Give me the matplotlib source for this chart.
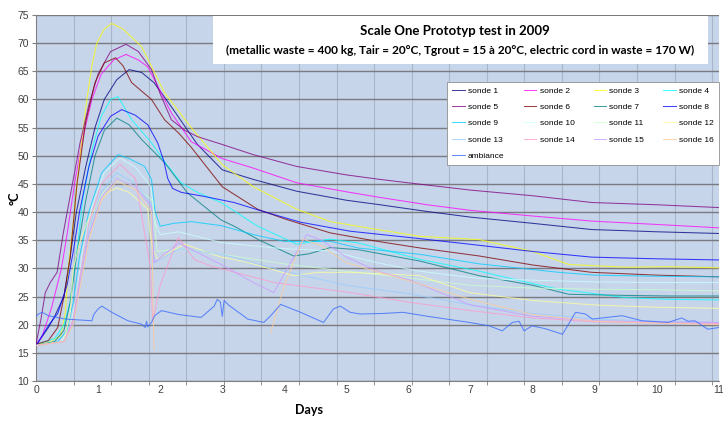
import numpy as np
import matplotlib
matplotlib.use("Agg")
import matplotlib.pyplot as plt
from matplotlib.patches import Rectangle

nan = np.nan

# ---- data (days, degC) ----
d_s1 = [0, 0.2, 0.3, 0.45, 0.55, 0.65, 0.8, 0.95, 1.1, 1.3, 1.5, 1.7, 1.9, 2.18, 2.6, 3.0, 3.5, 4.2, 5.0, 5.54, 6.3, 7.0, 8.0, 8.95, 10, 11]
t_s1 = [16.3, 19.5, 21.5, 25, 32, 40, 48, 55, 60, 63.5, 65.3, 64.8, 63, 58.7, 52, 47.5, 45.8, 43.7, 42.1, 41.3, 40.1, 39.1, 38, 36.9, 36.5, 36.2]

d_s2 = [0, 0.1, 0.16, 0.25, 0.41, 0.5, 0.62, 0.75, 0.9, 1.05, 1.25, 1.45, 1.65, 1.8, 2.0, 2.18, 2.5, 3.0, 3.5, 4.2, 5.0, 5.54, 6.3, 7.0, 8.0, 8.95, 10, 11]
t_s2 = [16.3, 18, 20, 23, 30, 36, 45, 53, 60, 64.5, 67, 68, 67, 65.8, 61.5, 57.6, 52.5, 49.5, 47.8, 45.2, 43.6, 42.6, 41.3, 40.3, 39.3, 38.4, 37.8, 37.2]

d_s3 = [0, 0.2, 0.4, 0.47, 0.52, 0.6, 0.66, 0.75, 0.82, 0.9, 0.98, 1.1, 1.22, 1.4, 1.7, 2.07, 2.5, 3.0, 3.5, 4.2, 4.74, 5.5, 6.18, 7.14, 8.0, 8.58, 9.5, 10.2, 11]
t_s3 = [16.5, 16.8, 18, 22, 30, 38, 45, 54, 60, 66, 70, 72.5, 73.5, 72.5, 69.4, 61.2, 55, 48.4, 44.5, 40.5, 38.3, 36.9, 35.7, 35.1, 33, 30.7, 30.2, 30.3, 30.1]

d_s4 = [0, 0.3, 0.45, 0.55, 0.65, 0.75, 0.9, 1.05, 1.2, 1.32, 1.54, 1.86, 2.1, 2.34, 2.6, 2.98, 3.57, 4.2, 4.74, 5.2, 6.18, 7.14, 8.0, 8.42, 9.5, 10.2, 11]
t_s4 = [16.5, 17.5, 20, 24, 32, 42, 51, 57, 60, 60.5, 56.4, 52.3, 48.5, 45.2, 43.5, 41.7, 37.5, 34.3, 35.2, 34.5, 31.6, 29.5, 27.3, 26.3, 24.8, 24.5, 24.4]

d_s5 = [0, 0.08, 0.15, 0.23, 0.34, 0.44, 0.58, 0.71, 0.85, 1.0, 1.2, 1.45, 1.65, 1.86, 2.0, 2.18, 2.4, 2.6, 3.0, 3.5, 4.2, 5.0, 5.54, 6.3, 7.0, 8.0, 8.95, 10.0, 11]
t_s5 = [16.5, 21, 25.7, 27.5, 29.3, 36.3, 44.6, 52.3, 59, 64.5, 68.5, 69.8, 68.5, 65.3, 61, 56.4, 54.5, 53.4, 52, 50.2, 48.1, 46.6, 45.8, 44.8, 43.9, 42.9, 41.7, 41.3, 40.8]

d_s6 = [0, 0.2, 0.35, 0.45, 0.55, 0.66, 0.8, 0.95, 1.1, 1.28, 1.4, 1.54, 1.7, 1.86, 2.07, 2.3, 2.5, 3.0, 3.57, 4.0, 4.74, 5.5, 6.2, 7.14, 8.0, 8.95, 10, 11]
t_s6 = [16.5, 17.2, 19.5, 25, 32, 45, 56, 63, 66.5, 67.4, 66, 63, 61.5, 60, 56.4, 54, 51.5, 44.5, 40.5, 38.8, 36.3, 34.8, 33.6, 32.2, 30.6, 29.3, 28.8, 28.5]

d_s7 = [0, 0.3, 0.45, 0.55, 0.65, 0.8, 0.95, 1.1, 1.3, 1.5, 1.7, 2.07, 2.44, 2.98, 3.19, 3.6, 4.15, 4.4, 4.74, 5.2, 6.18, 7.14, 8.0, 8.58, 9.5, 10.2, 11]
t_s7 = [16.3, 17, 19, 24, 32, 42, 50, 54.5, 56.7, 55.5, 52.9, 48.8, 43.4, 38.6, 37.5, 35, 32.2, 32.6, 33.7, 33.3, 31.3, 28.7, 27, 25.4, 25.2, 25.1, 25.1]

d_s8 = [0, 0.21, 0.35, 0.5, 0.6, 0.7, 0.85, 1.0, 1.2, 1.38, 1.6, 1.8, 1.96, 2.06, 2.12, 2.2, 2.34, 2.7, 3.19, 3.6, 4.26, 5.06, 6.0, 6.98, 8.0, 8.95, 10, 11]
t_s8 = [16.3, 20, 22, 27, 33, 40, 48, 53.5, 57, 58.2, 57.2, 55.5, 52.3, 49, 46, 44.2, 43.5, 42.8, 41.7, 40.3, 38.2, 36.6, 35.5, 34.3, 33, 32, 31.7, 31.5]

d_s9 = [0, 0.35, 0.5, 0.6, 0.7, 0.85, 1.06, 1.32, 1.5, 1.75, 1.86, 1.92, 2.0, 2.22, 2.5, 2.98, 3.5, 4.0, 4.74, 5.2, 6.18, 7.14, 8.42, 9.0, 10.0, 11]
t_s9 = [16.3, 17, 19, 24, 32, 40, 47, 50.2, 49.5, 48.1, 45.8, 40, 37.5, 38, 38.3, 37.6, 36, 34.8, 34.8, 33.6, 32.5, 30.8, 29.3, 28.8, 28.6, 28.5]

d_s10 = [0, 0.4, 0.55, 0.65, 0.75, 0.9, 1.1, 1.35, 1.6, 1.85, 1.92, 2.0, 2.3, 2.98, 3.5, 4.0, 4.74, 5.5, 6.18, 7.14, 8.0, 9.0, 10, 11]
t_s10 = [16.3, 17, 19.5, 25, 33, 41, 47, 49.6, 48, 44.5, 38, 36, 36.5, 34.6, 34, 33.5, 33.1, 31, 29.5, 28.2, 27.9, 27.6, 27.5, 27.5]

d_s11 = [0, 0.45, 0.6, 0.7, 0.85, 1.05, 1.3, 1.6, 1.88, 1.95, 2.3, 3.0, 4.0, 5.0, 6.0, 7.0, 8, 9, 10, 11]
t_s11 = [16.3, 17, 21, 28, 37, 43, 46, 44.5, 42, 33, 33.5, 32.5, 30.8, 29.5, 28.3, 27.0, 26.5, 26.3, 26.2, 26.0]

d_s12 = [0, 0.45, 0.55, 0.6, 0.7, 0.82, 1.0, 1.15, 1.3, 1.5, 1.8, 1.84, 1.88, 1.96, 2.1, 2.39, 2.98, 3.19, 3.5, 4.15, 4.53, 5.06, 6.18, 6.98, 8.0, 9.0, 10, 11]
t_s12 = [16.3, 17, 22, 29.8, 34.5, 38.1, 41.6, 43.5, 44.3, 43.5, 40.5, 36, 33.4, 31.6, 32.5, 34.3, 32, 31.6, 30.8, 28.7, 29.3, 29.3, 28.7, 25.7, 24.3, 23.5, 23.1, 22.9]

d_s13 = [0, 0.45, 0.6, 0.7, 0.85, 1.05, 1.3, 1.6, 1.86, 1.9, 2.3, 3.0, 4.0, 5.0, 6.0, 7.0, 8.0, 9.0, 10, 11]
t_s13 = [16.3, 17, 21, 28, 37, 43.5, 47, 45, 41.5, 31, 33.5, 32.5, 29.5, 27, 25.5, 23.5, 22, 21, 20.6, 20.4]

d_s14 = [0, 0.45, 0.6, 0.7, 0.85, 1.05, 1.35, 1.6, 1.84, 1.88, 2.0, 2.29, 2.55, 2.82, 3.83, 5.06, 6.0, 7.0, 8.0, 9.0, 10, 11]
t_s14 = [16.3, 17, 21, 28, 38, 45, 48.5, 46, 30.4, 20.5, 27, 35.5, 31.6, 30.4, 27.5, 25.7, 24, 22.5, 21.2, 20.5, 20.3, 20.2]

d_s15 = [0, 0.45, 0.6, 0.7, 0.85, 1.05, 1.3, 1.6, 1.86, 1.9, 2.3, 2.98, 3.5, 3.83, 4.1, 4.36, 4.6, 5.0, 5.5, 6.0, 7.0, 8.0, 9.0, 10, 11]
t_s15 = [16.3, 17, 20.5, 27, 36, 42.5, 46, 44.5, 41, 31, 34.5, 30.7, 27.5, 25.7, 31, 36.0, 35, 32, 29.5, 28, 23.5, 21.5, 20.7, 20.5, 20.4]

d_s16 = [0, 0.45, 0.6, 0.7, 0.85, 1.05, 1.3, 1.6, 1.86, 1.9, 1.91, 3.77, 3.78, 4.0, 4.3, 4.6, 5.0, 6.0, 7.0, 8.0, 9.0, 11]
t_s16 = [16.3, 17, 20, 26, 35, 42, 45.5, 44, 40, 15.5, nan, nan, 18.6, 27, 35.2, 34, 31, 27.8, 24.5, 21.8, 20.6, 20.0]

d_amb = [0, 0.04, 0.1, 0.2, 0.47, 0.9, 0.93, 1.0, 1.06, 1.22, 1.48, 1.59, 1.7, 1.76, 1.78, 1.8, 1.86, 1.91, 2.02, 2.3, 2.66, 2.87, 2.92, 2.97, 3.0, 3.03, 3.1, 3.41, 3.67, 3.78, 3.94, 4.26, 4.63, 4.79, 4.9, 5.06, 5.22, 5.6, 5.91, 6.3, 6.61, 6.98, 7.3, 7.51, 7.67, 7.78, 7.86, 7.99, 8.2, 8.48, 8.69, 8.85, 8.96, 9.2, 9.44, 9.76, 10.18, 10.4, 10.5, 10.61, 10.82, 11]
t_amb = [21.5, 21.9, 22.2, 21.6, 21.0, 20.7, 21.8, 22.8, 23.3, 22.2, 20.7, 20.4, 20.1, 19.5, 20.6, 19.6, 20.4, 21.6, 22.5, 21.8, 21.3, 23.3, 24.5, 24.0, 21.5, 24.3, 23.5, 21.0, 20.4, 21.6, 23.6, 22.2, 20.4, 22.8, 23.3, 22.2, 21.9, 22.0, 22.2, 21.5, 21.0, 20.4, 19.8, 18.9, 20.4, 20.6, 18.9, 19.8, 19.3, 18.3, 22.2, 21.9, 21.0, 21.3, 21.6, 20.7, 20.4, 21.2, 20.6, 20.7, 19.2, 19.5]

labels = ["sonde %d" % i for i in range(1, 17)] + ["ambiance"]
days = [d_s1, d_s2, d_s3, d_s4, d_s5, d_s6, d_s7, d_s8, d_s9, d_s10, d_s11, d_s12, d_s13, d_s14, d_s15, d_s16, d_amb]
temps = [t_s1, t_s2, t_s3, t_s4, t_s5, t_s6, t_s7, t_s8, t_s9, t_s10, t_s11, t_s12, t_s13, t_s14, t_s15, t_s16, t_amb]
# Excel 2003 default series colours
colors = ["#000080", "#FF00FF", "#FFFF00", "#00FFFF", "#800080", "#800000", "#008080", "#0000FF",
          "#00CCFF", "#CCFFFF", "#CCFFCC", "#FFFF99", "#99CCFF", "#FF99CC", "#CC99FF", "#FFCC99", "#3366FF"]

fig = plt.figure(figsize=(7.23, 4.21), dpi=100)
ax = fig.add_axes([36 / 723, 1 - 381 / 421, 683 / 723, 366 / 421])
ax.set_facecolor("#c6d5ea")

handles = []
for d, t, c, lab in zip(days, temps, colors, labels):
    h, = ax.plot(d, t, color=c, lw=0.75, alpha=0.75, label=lab, zorder=3)
    handles.append(h)

ax.set_xlim(0, 11)
ax.set_ylim(10, 75)
ax.set_yticks(np.arange(10, 76, 5))
ax.set_xticks(np.arange(0, 12, 1))
ax.set_xticks(np.arange(0.605, 11, 0.605), minor=True)
ax.grid(True, axis="y", which="major", color="#7a7a80", lw=1.0, zorder=1)
ax.grid(True, axis="x", which="minor", color="#a9b6c8", lw=0.8, zorder=1)
ax.tick_params(axis="y", labelsize=7.5, labelcolor="#404040", length=3, color="#808080", pad=2)
ax.tick_params(axis="x", which="major", labelsize=7.5, labelcolor="#404040", length=0, pad=3)
ax.tick_params(axis="x", which="minor", length=3, color="#808080")
for lab in ax.get_xticklabels() + ax.get_yticklabels():
    lab.set_family("Liberation Sans")
for s in ["top", "right"]:
    ax.spines[s].set_visible(False)
for s in ["left", "bottom"]:
    ax.spines[s].set_color("#808080")

ax.set_ylabel("°C", fontsize=9, fontweight="bold", family="Lato")
ax.yaxis.set_label_coords(-0.022, 0.5)
ax.set_xlabel("Days", fontsize=9, fontweight="bold", family="Lato")
ax.xaxis.set_label_coords(0.4, -0.062)

# title box
ax.add_patch(Rectangle((213 / 723, 1 - 64 / 421), 495 / 723, 48 / 421, transform=fig.transFigure,
                       facecolor="white", edgecolor="none", zorder=5))
fig.text(455 / 723, 1 - 31 / 421, "Scale One Prototyp test in 2009", ha="center", va="center",
         fontsize=9.5, fontweight="bold", family="Lato", zorder=6)
fig.text(460 / 723, 1 - 50 / 421,
         "(metallic waste = 400 kg, Tair = 20°C, Tgrout = 15 à 20°C, electric cord in waste = 170 W)",
         ha="center", va="center", fontsize=8.6, fontweight="bold", family="Lato", zorder=6)

# legend, row-major order like the original
order = [0, 4, 8, 12, 16, 1, 5, 9, 13, 2, 6, 10, 14, 3, 7, 11, 15]
leg = ax.legend([handles[i] for i in order], [labels[i] for i in order], ncol=4,
                loc="upper left", bbox_to_anchor=(443 / 723, 1 - 78 / 421), bbox_transform=fig.transFigure,
                frameon=True, fancybox=False, edgecolor="#909090", framealpha=1,
                handlelength=1.5, handletextpad=0.4, columnspacing=2.3, labelspacing=1.0,
                borderpad=0.6, prop={"family": "Liberation Sans", "size": 6})
leg.get_frame().set_linewidth(0.6)
leg.set_zorder(7)

fig.savefig("out.png", dpi=100)
